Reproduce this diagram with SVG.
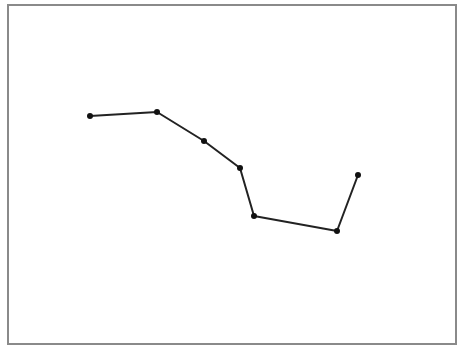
<svg xmlns="http://www.w3.org/2000/svg" width="458" height="346" viewBox="0 0 458 346">
<style>
.frame{fill:#fff;stroke:#8a8a8a;stroke-width:2}
.line{fill:none;stroke:#222;stroke-width:2;stroke-linejoin:round}
.pt{fill:#111}
</style>
<rect x="0" y="0" width="458" height="346" fill="#fff"/>
<rect class="frame" x="8" y="5" width="448" height="339"/>
<g id="connectors">
<polyline class="line" points="90,116 157,112 204,141 240,168 254,216 337,231 358,175"/>
</g>
<g id="p1"><circle class="pt" cx="90" cy="116" r="3"/></g>
<g id="p2"><circle class="pt" cx="157" cy="112" r="3"/></g>
<g id="p3"><circle class="pt" cx="204" cy="141" r="3"/></g>
<g id="p4"><circle class="pt" cx="240" cy="168" r="3"/></g>
<g id="p5"><circle class="pt" cx="254" cy="216" r="3"/></g>
<g id="p6"><circle class="pt" cx="337" cy="231" r="3"/></g>
<g id="p7"><circle class="pt" cx="358" cy="175" r="3"/></g>
</svg>
